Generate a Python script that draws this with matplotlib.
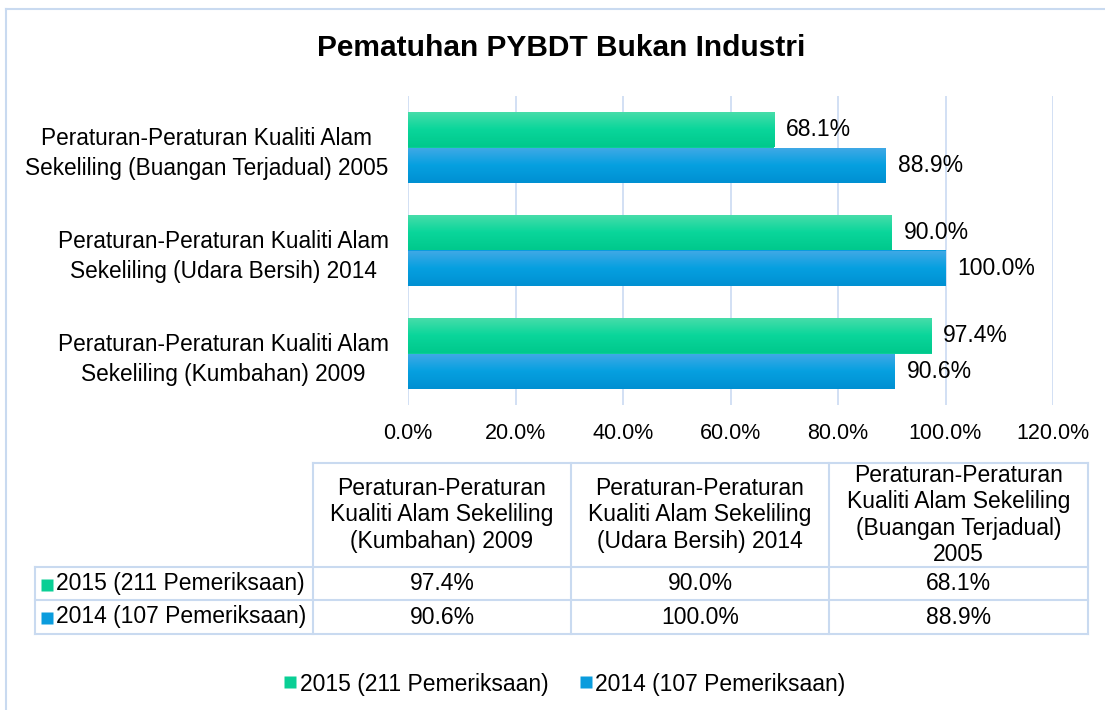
import matplotlib.pyplot as plt
import numpy as np
from matplotlib.colors import LinearSegmentedColormap
from matplotlib.lines import Line2D

plt.rcParams['font.family'] = ['Liberation Sans', 'DejaVu Sans']

## data
categories = ['Peraturan-Peraturan Kualiti Alam\nSekeliling (Kumbahan) 2009',
              'Peraturan-Peraturan Kualiti Alam\nSekeliling (Udara Bersih) 2014',
              'Peraturan-Peraturan Kualiti Alam\nSekeliling (Buangan Terjadual) 2005']
table_heads = ['Peraturan-Peraturan\nKualiti Alam Sekeliling\n(Kumbahan) 2009',
               'Peraturan-Peraturan\nKualiti Alam Sekeliling\n(Udara Bersih) 2014',
               'Peraturan-Peraturan\nKualiti Alam Sekeliling\n(Buangan Terjadual)\n2005']
series = ['2015 (211 Pemeriksaan)', '2014 (107 Pemeriksaan)']
v2015 = [97.4, 90.0, 68.1]
v2014 = [90.6, 100.0, 88.9]
xticks = [0, 20, 40, 60, 80, 100, 120]

green = '#0ACF95'
blue = '#0A9CDD'
green_cm = LinearSegmentedColormap.from_list('g', ['#4ADDAA', '#0AD69B', '#00C98C'])
blue_cm = LinearSegmentedColormap.from_list('b', ['#42A9E6', '#06A0E0', '#0090D2'])
grid_col = '#D2E0F4'
fs = 16.5

W, H = 1105, 710
fig = plt.figure(figsize=(W / 100, H / 100), dpi=100)

# figure border (left and top only visible)
fig.add_artist(Line2D([6 / W, 6 / W], [0, 1 - 9 / H], color='#C9DAF0', lw=1.5))
fig.add_artist(Line2D([6 / W, 1], [1 - 9 / H, 1 - 9 / H], color='#C9DAF0', lw=1.5))

fig.text(561 / W, 1 - 48 / H, 'Pematuhan PYBDT Bukan Industri',
         ha='center', va='center', fontsize=21.5, fontweight='bold')

ax = fig.add_axes([408 / W, 1 - 405 / H, (1053 - 408) / W, (405 - 96) / H])
y = np.arange(len(categories))
h = 0.34
b15 = ax.barh(y + h / 2, v2015, height=h, color=green)
b14 = ax.barh(y - h / 2, v2014, height=h, color=blue)

# gradient fill like the original
grad = np.linspace(0, 1, 64).reshape(-1, 1)
for bars, cm in [(b15, green_cm), (b14, blue_cm)]:
    for bar in bars:
        x0, y0 = bar.get_x(), bar.get_y()
        im = ax.imshow(grad, extent=[x0, x0 + bar.get_width(), y0, y0 + bar.get_height()],
                       aspect='auto', cmap=cm, zorder=bar.get_zorder() + 0.1)
        im.set_clip_path(bar)

ax.bar_label(b15, labels=[f'{v:.1f}%' for v in v2015], padding=8.5, fontsize=fs)
ax.bar_label(b14, labels=[f'{v:.1f}%' for v in v2014], padding=8.5, fontsize=fs)

ax.set_xlim(0, 120)
ax.set_ylim(-0.5, 2.5)
ax.set_xticks(xticks, [f'{t:.1f}%' for t in xticks], fontsize=15.5)
ax.set_yticks(y, categories, fontsize=16.3)
for lbl in ax.get_yticklabels():
    lbl.set_multialignment('center')
    lbl.set_linespacing(1.4)
ax.tick_params(axis='y', length=0, pad=14)
ax.tick_params(axis='x', length=0, pad=13)
ax.grid(axis='x', color=grid_col, lw=1.4)
ax.set_axisbelow(True)
for s in ax.spines.values():
    s.set_visible(False)

# data table below the chart
tax = fig.add_axes([0, 0, 1, 1])
tax.set_xlim(0, W)
tax.set_ylim(H, 0)
tax.axis('off')
tcol = '#C9DAF0'
cols = [35, 313, 571, 829, 1088]
rows = [463, 567, 600, 634]
tax.plot([cols[1], cols[-1]], [rows[0], rows[0]], color=tcol, lw=1.5)
for r in rows[1:]:
    tax.plot([cols[0], cols[-1]], [r, r], color=tcol, lw=1.5)
tax.plot([cols[0], cols[0]], [rows[1], rows[-1]], color=tcol, lw=1.5)
for c in cols[1:]:
    tax.plot([c, c], [rows[0], rows[-1]], color=tcol, lw=1.5)

for i, head in enumerate(table_heads):
    cx = (cols[i + 1] + cols[i + 2]) / 2
    tax.text(cx, (rows[0] + rows[1]) / 2, head, ha='center', va='center',
             fontsize=fs, linespacing=1.18, multialignment='center')

for j, (name, vals, col) in enumerate([(series[0], v2015, green), (series[1], v2014, blue)]):
    cy = (rows[j + 1] + rows[j + 2]) / 2
    tax.plot(47, cy + 1, marker='s', ms=8, color=col, mec='none')
    tax.text(56, cy, name, ha='left', va='center', fontsize=fs)
    for i, v in enumerate(vals):
        cx = (cols[i + 1] + cols[i + 2]) / 2
        tax.text(cx, cy, f'{v:.1f}%', ha='center', va='center', fontsize=fs)

handles = [Line2D([], [], marker='s', ls='', ms=8, color=green, mec='none'),
           Line2D([], [], marker='s', ls='', ms=8, color=blue, mec='none')]
fig.legend(handles, series, loc='center', bbox_to_anchor=(565 / W, 1 - 684 / H),
           ncol=2, frameon=False, fontsize=fs, handlelength=0.5, handletextpad=0.15,
           columnspacing=1.4)

fig.savefig('out.png', dpi=100)
